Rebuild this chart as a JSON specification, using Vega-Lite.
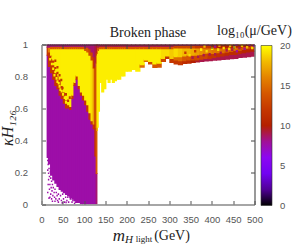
{"$schema":"https://vega.github.io/schema/vega-lite/v6.json","width":213,"height":160,"autosize":"none","padding":{"left":41.5,"top":44.5,"right":38.5,"bottom":45.5},"background":"white",
"title":{"text":"Broken phase","font":"Liberation Serif","fontSize":14,"fontWeight":"normal","color":"#222","offset":1,"dy":17,"anchor":"middle"},
"config":{"view":{"stroke":null}},
"data":{"values":[
{"x":12,"x2":15,"y":0.29,"y2":0.93,"v":7.6},{"x":12,"x2":15,"y":0.93,"y2":0.98,"v":12},{"x":12,"x2":15,"y":0.98,"y2":1,"v":8.5},
{"x":15,"x2":20,"y":0.25,"y2":0.86,"v":7.6},{"x":15,"x2":20,"y":0.86,"y2":0.95,"v":12},{"x":15,"x2":20,"y":0.95,"y2":0.98,"v":16},{"x":15,"x2":20,"y":0.98,"y2":1,"v":8.5},
{"x":20,"x2":25,"y":0.18,"y2":0.82,"v":7.6},{"x":20,"x2":25,"y":0.82,"y2":0.93,"v":12},{"x":20,"x2":25,"y":0.93,"y2":0.97,"v":19.5},{"x":20,"x2":25,"y":0.97,"y2":0.985,"v":14},{"x":20,"x2":25,"y":0.985,"y2":1,"v":8.5},
{"x":25,"x2":30,"y":0.15,"y2":0.78,"v":7.6},{"x":25,"x2":30,"y":0.78,"y2":0.9,"v":12},{"x":25,"x2":30,"y":0.9,"y2":0.97,"v":19.5},{"x":25,"x2":30,"y":0.97,"y2":0.985,"v":14},{"x":25,"x2":30,"y":0.985,"y2":1,"v":8.5},
{"x":30,"x2":35,"y":0.13,"y2":0.74,"v":7.6},{"x":30,"x2":35,"y":0.74,"y2":0.86,"v":12},{"x":30,"x2":35,"y":0.86,"y2":0.97,"v":19.5},{"x":30,"x2":35,"y":0.97,"y2":0.985,"v":14},{"x":30,"x2":35,"y":0.985,"y2":1,"v":8.5},
{"x":35,"x2":40,"y":0.11,"y2":0.72,"v":7.6},{"x":35,"x2":40,"y":0.72,"y2":0.83,"v":12},{"x":35,"x2":40,"y":0.83,"y2":0.97,"v":19.5},{"x":35,"x2":40,"y":0.97,"y2":0.985,"v":14},{"x":35,"x2":40,"y":0.985,"y2":1,"v":8.5},
{"x":40,"x2":45,"y":0.09,"y2":0.68,"v":7.6},{"x":40,"x2":45,"y":0.68,"y2":0.78,"v":12},{"x":40,"x2":45,"y":0.78,"y2":0.97,"v":19.5},{"x":40,"x2":45,"y":0.97,"y2":0.985,"v":14},{"x":40,"x2":45,"y":0.985,"y2":1,"v":8.5},
{"x":45,"x2":50,"y":0.08,"y2":0.66,"v":7.6},{"x":45,"x2":50,"y":0.66,"y2":0.74,"v":12},{"x":45,"x2":50,"y":0.74,"y2":0.97,"v":19.5},{"x":45,"x2":50,"y":0.97,"y2":0.985,"v":14},{"x":45,"x2":50,"y":0.985,"y2":1,"v":8.5},
{"x":50,"x2":55,"y":0.07,"y2":0.63,"v":7.6},{"x":50,"x2":55,"y":0.63,"y2":0.7,"v":12},{"x":50,"x2":55,"y":0.7,"y2":0.97,"v":19.5},{"x":50,"x2":55,"y":0.97,"y2":0.985,"v":14},{"x":50,"x2":55,"y":0.985,"y2":1,"v":8.5},
{"x":55,"x2":60,"y":0.06,"y2":0.6,"v":7.6},{"x":55,"x2":60,"y":0.6,"y2":0.65,"v":12},{"x":55,"x2":60,"y":0.65,"y2":0.97,"v":19.5},{"x":55,"x2":60,"y":0.97,"y2":0.985,"v":14},{"x":55,"x2":60,"y":0.985,"y2":1,"v":8.5},
{"x":60,"x2":65,"y":0.05,"y2":0.6,"v":7.6},{"x":60,"x2":65,"y":0.6,"y2":0.62,"v":12},{"x":60,"x2":65,"y":0.62,"y2":0.97,"v":19.5},{"x":60,"x2":65,"y":0.97,"y2":0.985,"v":14},{"x":60,"x2":65,"y":0.985,"y2":1,"v":8.5},
{"x":65,"x2":70,"y":0.04,"y2":0.59,"v":7.6},{"x":65,"x2":70,"y":0.59,"y2":0.61,"v":12},{"x":65,"x2":70,"y":0.61,"y2":0.97,"v":19.5},{"x":65,"x2":70,"y":0.97,"y2":0.985,"v":14},{"x":65,"x2":70,"y":0.985,"y2":1,"v":8.5},
{"x":70,"x2":75,"y":0.03,"y2":0.66,"v":7.6},{"x":70,"x2":75,"y":0.66,"y2":0.68,"v":12},{"x":70,"x2":75,"y":0.68,"y2":0.97,"v":19.5},{"x":70,"x2":75,"y":0.97,"y2":0.985,"v":14},{"x":70,"x2":75,"y":0.985,"y2":1,"v":8.5},
{"x":75,"x2":80,"y":0.02,"y2":0.74,"v":7.6},{"x":75,"x2":80,"y":0.74,"y2":0.76,"v":12},{"x":75,"x2":80,"y":0.76,"y2":0.97,"v":19.5},{"x":75,"x2":80,"y":0.97,"y2":0.985,"v":14},{"x":75,"x2":80,"y":0.985,"y2":1,"v":8.5},
{"x":80,"x2":85,"y":0.01,"y2":0.78,"v":7.6},{"x":80,"x2":85,"y":0.78,"y2":0.8,"v":12},{"x":80,"x2":85,"y":0.8,"y2":0.97,"v":19.5},{"x":80,"x2":85,"y":0.97,"y2":0.985,"v":14},{"x":80,"x2":85,"y":0.985,"y2":1,"v":8.5},
{"x":85,"x2":90,"y":0.01,"y2":0.72,"v":7.6},{"x":85,"x2":90,"y":0.72,"y2":0.74,"v":12},{"x":85,"x2":90,"y":0.74,"y2":0.97,"v":19.5},{"x":85,"x2":90,"y":0.97,"y2":0.985,"v":14},{"x":85,"x2":90,"y":0.985,"y2":1,"v":8.5},
{"x":90,"x2":95,"y":0,"y2":0.68,"v":7.6},{"x":90,"x2":95,"y":0.68,"y2":0.7,"v":12},{"x":90,"x2":95,"y":0.7,"y2":0.97,"v":19.5},{"x":90,"x2":95,"y":0.97,"y2":0.985,"v":14},{"x":90,"x2":95,"y":0.985,"y2":1,"v":8.5},
{"x":95,"x2":100,"y":0,"y2":0.65,"v":7.6},{"x":95,"x2":100,"y":0.65,"y2":0.68,"v":12},{"x":95,"x2":100,"y":0.68,"y2":0.97,"v":19.5},{"x":95,"x2":100,"y":0.97,"y2":0.985,"v":14},{"x":95,"x2":100,"y":0.985,"y2":1,"v":8.5},
{"x":100,"x2":105,"y":0,"y2":0.62,"v":7.6},{"x":100,"x2":105,"y":0.62,"y2":0.65,"v":12},{"x":100,"x2":105,"y":0.65,"y2":0.96,"v":19.5},{"x":100,"x2":105,"y":0.96,"y2":0.98,"v":14},{"x":100,"x2":105,"y":0.98,"y2":1,"v":8.5},
{"x":105,"x2":110,"y":0,"y2":0.58,"v":7.6},{"x":105,"x2":110,"y":0.58,"y2":0.62,"v":12},{"x":105,"x2":110,"y":0.62,"y2":0.95,"v":19.5},{"x":105,"x2":110,"y":0.95,"y2":0.98,"v":14},{"x":105,"x2":110,"y":0.98,"y2":1,"v":8.5},
{"x":110,"x2":115,"y":0,"y2":0.53,"v":7.6},{"x":110,"x2":115,"y":0.53,"y2":0.57,"v":12},{"x":110,"x2":115,"y":0.57,"y2":0.93,"v":19.5},{"x":110,"x2":115,"y":0.93,"y2":0.97,"v":13},{"x":110,"x2":115,"y":0.97,"y2":1,"v":8.5},
{"x":115,"x2":120,"y":0,"y2":0.5,"v":7.6},{"x":115,"x2":120,"y":0.5,"y2":0.52,"v":12},{"x":115,"x2":120,"y":0.52,"y2":0.9,"v":19},{"x":115,"x2":120,"y":0.9,"y2":0.95,"v":13},{"x":115,"x2":120,"y":0.95,"y2":1,"v":8.5},
{"x":120,"x2":124,"y":0,"y2":0.47,"v":7.6},{"x":120,"x2":124,"y":0.47,"y2":0.5,"v":12},{"x":120,"x2":124,"y":0.5,"y2":0.85,"v":17},{"x":120,"x2":124,"y":0.85,"y2":0.92,"v":12},{"x":120,"x2":124,"y":0.92,"y2":1,"v":8.5},
{"x":124,"x2":127,"y":0,"y2":0.3,"v":7.6},{"x":124,"x2":127,"y":0.3,"y2":0.86,"v":11.5},{"x":124,"x2":127,"y":0.86,"y2":1,"v":9},
{"x":127,"x2":129,"y":0,"y2":0.19,"v":8.5},{"x":127,"x2":129,"y":0.19,"y2":0.48,"v":14},{"x":127,"x2":129,"y":0.48,"y2":0.88,"v":16},{"x":127,"x2":129,"y":0.88,"y2":0.95,"v":12},{"x":127,"x2":129,"y":0.95,"y2":1,"v":9},
{"x":129,"x2":130,"y":0.46,"y2":0.93,"v":18},{"x":129,"x2":130,"y":0.93,"y2":1,"v":10},
{"x":130,"x2":132,"y":0.48,"y2":0.94,"v":19.5},{"x":130,"x2":132,"y":0.94,"y2":0.98,"v":14},{"x":130,"x2":132,"y":0.98,"y2":1,"v":9},
{"x":132,"x2":135,"y":0.58,"y2":0.96,"v":19.5},{"x":132,"x2":135,"y":0.96,"y2":0.98,"v":14},{"x":132,"x2":135,"y":0.98,"y2":1,"v":9},
{"x":135,"x2":140,"y":0.76,"y2":0.97,"v":19.5},{"x":135,"x2":140,"y":0.97,"y2":0.985,"v":14},{"x":135,"x2":140,"y":0.985,"y2":1,"v":9},
{"x":140,"x2":145,"y":0.7,"y2":0.97,"v":19.5},{"x":140,"x2":145,"y":0.97,"y2":0.985,"v":14},{"x":140,"x2":145,"y":0.985,"y2":1,"v":9},
{"x":145,"x2":150,"y":0.72,"y2":0.97,"v":19.5},{"x":145,"x2":150,"y":0.97,"y2":0.985,"v":14},{"x":145,"x2":150,"y":0.985,"y2":1,"v":9},
{"x":150,"x2":155,"y":0.78,"y2":0.97,"v":19.5},{"x":150,"x2":155,"y":0.97,"y2":0.985,"v":14},{"x":150,"x2":155,"y":0.985,"y2":1,"v":9},
{"x":155,"x2":160,"y":0.76,"y2":0.97,"v":19.5},{"x":155,"x2":160,"y":0.97,"y2":0.985,"v":14},{"x":155,"x2":160,"y":0.985,"y2":1,"v":9},
{"x":160,"x2":165,"y":0.78,"y2":0.97,"v":19.5},{"x":160,"x2":165,"y":0.97,"y2":0.985,"v":14},{"x":160,"x2":165,"y":0.985,"y2":1,"v":9},
{"x":165,"x2":170,"y":0.76,"y2":0.97,"v":19.5},{"x":165,"x2":170,"y":0.97,"y2":0.985,"v":14},{"x":165,"x2":170,"y":0.985,"y2":1,"v":9},
{"x":170,"x2":175,"y":0.77,"y2":0.97,"v":19.5},{"x":170,"x2":175,"y":0.97,"y2":0.985,"v":14},{"x":170,"x2":175,"y":0.985,"y2":1,"v":9},
{"x":175,"x2":180,"y":0.78,"y2":0.97,"v":19.5},{"x":175,"x2":180,"y":0.97,"y2":0.985,"v":14},{"x":175,"x2":180,"y":0.985,"y2":1,"v":9},
{"x":180,"x2":185,"y":0.78,"y2":0.97,"v":19.5},{"x":180,"x2":185,"y":0.97,"y2":0.985,"v":14},{"x":180,"x2":185,"y":0.985,"y2":1,"v":9},
{"x":185,"x2":190,"y":0.8,"y2":0.97,"v":19.5},{"x":185,"x2":190,"y":0.97,"y2":0.985,"v":14},{"x":185,"x2":190,"y":0.985,"y2":1,"v":9},
{"x":190,"x2":195,"y":0.8,"y2":0.97,"v":19.5},{"x":190,"x2":195,"y":0.97,"y2":0.985,"v":14},{"x":190,"x2":195,"y":0.985,"y2":1,"v":9},
{"x":195,"x2":200,"y":0.83,"y2":0.97,"v":19.5},{"x":195,"x2":200,"y":0.97,"y2":0.985,"v":14},{"x":195,"x2":200,"y":0.985,"y2":1,"v":9},
{"x":200,"x2":210,"y":0.83,"y2":0.97,"v":19.5},{"x":200,"x2":210,"y":0.97,"y2":0.985,"v":14},{"x":200,"x2":210,"y":0.985,"y2":1,"v":9},
{"x":210,"x2":220,"y":0.84,"y2":0.97,"v":19.5},{"x":210,"x2":220,"y":0.97,"y2":0.985,"v":14},{"x":210,"x2":220,"y":0.985,"y2":1,"v":9},
{"x":220,"x2":230,"y":0.83,"y2":0.97,"v":19.5},{"x":220,"x2":230,"y":0.97,"y2":0.985,"v":14},{"x":220,"x2":230,"y":0.985,"y2":1,"v":9},
{"x":230,"x2":240,"y":0.855,"y2":0.87,"v":15},{"x":230,"x2":240,"y":0.87,"y2":0.97,"v":19.5},{"x":230,"x2":240,"y":0.97,"y2":0.985,"v":14},{"x":230,"x2":240,"y":0.985,"y2":1,"v":9},
{"x":240,"x2":250,"y":0.89,"y2":0.9,"v":15},{"x":240,"x2":250,"y":0.9,"y2":0.97,"v":19.5},{"x":240,"x2":250,"y":0.97,"y2":0.985,"v":14},{"x":240,"x2":250,"y":0.985,"y2":1,"v":9},
{"x":250,"x2":260,"y":0.875,"y2":0.89,"v":13},{"x":250,"x2":260,"y":0.89,"y2":0.97,"v":19.5},{"x":250,"x2":260,"y":0.97,"y2":0.985,"v":14},{"x":250,"x2":260,"y":0.985,"y2":1,"v":9},
{"x":260,"x2":270,"y":0.853,"y2":0.875,"v":14},{"x":260,"x2":270,"y":0.875,"y2":0.97,"v":19.5},{"x":260,"x2":270,"y":0.97,"y2":0.985,"v":14},{"x":260,"x2":270,"y":0.985,"y2":1,"v":9},
{"x":270,"x2":280,"y":0.855,"y2":0.88,"v":14},{"x":270,"x2":280,"y":0.88,"y2":0.97,"v":19.5},{"x":270,"x2":280,"y":0.97,"y2":0.985,"v":14},{"x":270,"x2":280,"y":0.985,"y2":1,"v":9},
{"x":280,"x2":290,"y":0.89,"y2":0.91,"v":13},{"x":280,"x2":290,"y":0.91,"y2":0.97,"v":19},{"x":280,"x2":290,"y":0.97,"y2":0.985,"v":14},{"x":280,"x2":290,"y":0.985,"y2":1,"v":9},
{"x":290,"x2":300,"y":0.91,"y2":0.925,"v":12},{"x":290,"x2":300,"y":0.925,"y2":0.97,"v":19},{"x":290,"x2":300,"y":0.97,"y2":0.985,"v":14},{"x":290,"x2":300,"y":0.985,"y2":1,"v":9},
{"x":300,"x2":310,"y":0.885,"y2":0.91,"v":12},{"x":300,"x2":310,"y":0.91,"y2":0.97,"v":18.5},{"x":300,"x2":310,"y":0.97,"y2":0.985,"v":14},{"x":300,"x2":310,"y":0.985,"y2":1,"v":9},
{"x":310,"x2":320,"y":0.875,"y2":0.9,"v":12},{"x":310,"x2":320,"y":0.9,"y2":0.92,"v":15},{"x":310,"x2":320,"y":0.92,"y2":0.975,"v":19},{"x":310,"x2":320,"y":0.975,"y2":0.99,"v":13},{"x":310,"x2":320,"y":0.99,"y2":1,"v":9},
{"x":320,"x2":330,"y":0.87,"y2":0.895,"v":12},{"x":320,"x2":330,"y":0.895,"y2":0.92,"v":15},{"x":320,"x2":330,"y":0.92,"y2":0.975,"v":18.5},{"x":320,"x2":330,"y":0.975,"y2":0.99,"v":13},{"x":320,"x2":330,"y":0.99,"y2":1,"v":9},
{"x":330,"x2":340,"y":0.878,"y2":0.895,"v":11},{"x":330,"x2":340,"y":0.895,"y2":0.925,"v":14},{"x":330,"x2":340,"y":0.925,"y2":0.975,"v":18},{"x":330,"x2":340,"y":0.975,"y2":0.99,"v":13},{"x":330,"x2":340,"y":0.99,"y2":1,"v":9},
{"x":340,"x2":350,"y":0.88,"y2":0.9,"v":11},{"x":340,"x2":350,"y":0.9,"y2":0.93,"v":14},{"x":340,"x2":350,"y":0.93,"y2":0.975,"v":18},{"x":340,"x2":350,"y":0.975,"y2":0.99,"v":13},{"x":340,"x2":350,"y":0.99,"y2":1,"v":9},
{"x":350,"x2":360,"y":0.885,"y2":0.9,"v":10},{"x":350,"x2":360,"y":0.9,"y2":0.93,"v":13},{"x":350,"x2":360,"y":0.93,"y2":0.975,"v":17.5},{"x":350,"x2":360,"y":0.975,"y2":0.99,"v":13},{"x":350,"x2":360,"y":0.99,"y2":1,"v":9},
{"x":360,"x2":370,"y":0.888,"y2":0.9,"v":9.5},{"x":360,"x2":370,"y":0.9,"y2":0.93,"v":13},{"x":360,"x2":370,"y":0.93,"y2":0.975,"v":17},{"x":360,"x2":370,"y":0.975,"y2":0.99,"v":12},{"x":360,"x2":370,"y":0.99,"y2":1,"v":9},
{"x":370,"x2":380,"y":0.89,"y2":0.905,"v":9},{"x":370,"x2":380,"y":0.905,"y2":0.935,"v":13},{"x":370,"x2":380,"y":0.935,"y2":0.975,"v":16.5},{"x":370,"x2":380,"y":0.975,"y2":0.99,"v":12},{"x":370,"x2":380,"y":0.99,"y2":1,"v":9},
{"x":380,"x2":390,"y":0.893,"y2":0.91,"v":9},{"x":380,"x2":390,"y":0.91,"y2":0.94,"v":13},{"x":380,"x2":390,"y":0.94,"y2":0.975,"v":16},{"x":380,"x2":390,"y":0.975,"y2":0.99,"v":12},{"x":380,"x2":390,"y":0.99,"y2":1,"v":9},
{"x":390,"x2":400,"y":0.895,"y2":0.91,"v":9},{"x":390,"x2":400,"y":0.91,"y2":0.94,"v":12},{"x":390,"x2":400,"y":0.94,"y2":0.975,"v":16},{"x":390,"x2":400,"y":0.975,"y2":0.99,"v":12},{"x":390,"x2":400,"y":0.99,"y2":1,"v":9},
{"x":400,"x2":410,"y":0.898,"y2":0.915,"v":9},{"x":400,"x2":410,"y":0.915,"y2":0.94,"v":12},{"x":400,"x2":410,"y":0.94,"y2":0.975,"v":15.5},{"x":400,"x2":410,"y":0.975,"y2":1,"v":10},
{"x":410,"x2":420,"y":0.9,"y2":0.92,"v":9},{"x":410,"x2":420,"y":0.92,"y2":0.945,"v":11.5},{"x":410,"x2":420,"y":0.945,"y2":0.975,"v":15.5},{"x":410,"x2":420,"y":0.975,"y2":1,"v":10},
{"x":420,"x2":430,"y":0.903,"y2":0.925,"v":9},{"x":420,"x2":430,"y":0.925,"y2":0.945,"v":11.5},{"x":420,"x2":430,"y":0.945,"y2":0.975,"v":15},{"x":420,"x2":430,"y":0.975,"y2":1,"v":10},
{"x":430,"x2":440,"y":0.905,"y2":0.93,"v":9},{"x":430,"x2":440,"y":0.93,"y2":0.95,"v":11},{"x":430,"x2":440,"y":0.95,"y2":0.975,"v":15},{"x":430,"x2":440,"y":0.975,"y2":1,"v":10},
{"x":440,"x2":450,"y":0.908,"y2":0.935,"v":9},{"x":440,"x2":450,"y":0.935,"y2":0.955,"v":11},{"x":440,"x2":450,"y":0.955,"y2":0.975,"v":15},{"x":440,"x2":450,"y":0.975,"y2":1,"v":10},
{"x":450,"x2":460,"y":0.91,"y2":0.935,"v":9},{"x":450,"x2":460,"y":0.935,"y2":0.96,"v":11},{"x":450,"x2":460,"y":0.96,"y2":0.98,"v":15},{"x":450,"x2":460,"y":0.98,"y2":1,"v":10},
{"x":460,"x2":470,"y":0.915,"y2":0.94,"v":9},{"x":460,"x2":470,"y":0.94,"y2":0.96,"v":11},{"x":460,"x2":470,"y":0.96,"y2":0.98,"v":14},{"x":460,"x2":470,"y":0.98,"y2":1,"v":10},
{"x":470,"x2":480,"y":0.917,"y2":0.945,"v":9},{"x":470,"x2":480,"y":0.945,"y2":0.965,"v":10.5},{"x":470,"x2":480,"y":0.965,"y2":0.985,"v":14},{"x":470,"x2":480,"y":0.985,"y2":1,"v":10},
{"x":480,"x2":490,"y":0.92,"y2":0.95,"v":9},{"x":480,"x2":490,"y":0.95,"y2":0.97,"v":10.5},{"x":480,"x2":490,"y":0.97,"y2":0.985,"v":13},{"x":480,"x2":490,"y":0.985,"y2":1,"v":10},
{"x":490,"x2":500,"y":0.923,"y2":0.955,"v":9},{"x":490,"x2":500,"y":0.955,"y2":0.975,"v":10.5},{"x":490,"x2":500,"y":0.975,"y2":0.99,"v":13},{"x":490,"x2":500,"y":0.99,"y2":1,"v":10},
{"x":13,"x2":14,"y":0.27,"y2":0.274,"v":7.6},{"x":14,"x2":15,"y":0.245,"y2":0.249,"v":7.6},{"x":16,"x2":17,"y":0.22,"y2":0.224,"v":7.6},{"x":13,"x2":14,"y":0.21,"y2":0.214,"v":7.6},{"x":15,"x2":16,"y":0.19,"y2":0.194,"v":7.6},{"x":17,"x2":18,"y":0.17,"y2":0.174,"v":7.6},{"x":19,"x2":20,"y":0.2,"y2":0.204,"v":7.6},{"x":15,"x2":16,"y":0.15,"y2":0.154,"v":7.6},{"x":20,"x2":21,"y":0.16,"y2":0.164,"v":7.6},{"x":22,"x2":23,"y":0.14,"y2":0.144,"v":7.6},{"x":18,"x2":19,"y":0.12,"y2":0.124,"v":7.6},{"x":24,"x2":25,"y":0.12,"y2":0.124,"v":7.6},{"x":21,"x2":22,"y":0.1,"y2":0.104,"v":7.6},{"x":17,"x2":18,"y":0.09,"y2":0.094,"v":7.6},{"x":26,"x2":27,"y":0.1,"y2":0.104,"v":7.6},{"x":23,"x2":24,"y":0.08,"y2":0.084,"v":7.6},{"x":28,"x2":29,"y":0.07,"y2":0.074,"v":7.6},{"x":20,"x2":21,"y":0.06,"y2":0.064,"v":7.6},{"x":25,"x2":26,"y":0.05,"y2":0.054,"v":7.6},{"x":30,"x2":31,"y":0.09,"y2":0.094,"v":7.6},{"x":33,"x2":34,"y":0.07,"y2":0.074,"v":7.6},{"x":29,"x2":30,"y":0.04,"y2":0.044,"v":7.6},{"x":35,"x2":36,"y":0.05,"y2":0.054,"v":7.6},{"x":38,"x2":39,"y":0.06,"y2":0.064,"v":7.6},{"x":32,"x2":33,"y":0.03,"y2":0.034,"v":7.6},{"x":40,"x2":41,"y":0.03,"y2":0.034,"v":7.6},{"x":36,"x2":37,"y":0.02,"y2":0.024,"v":7.6},{"x":43,"x2":44,"y":0.05,"y2":0.054,"v":7.6},{"x":45,"x2":46,"y":0.02,"y2":0.024,"v":7.6},{"x":48,"x2":49,"y":0.06,"y2":0.064,"v":7.6},{"x":50,"x2":51,"y":0.03,"y2":0.034,"v":7.6},{"x":52,"x2":53,"y":0.01,"y2":0.014,"v":7.6},{"x":55,"x2":56,"y":0.04,"y2":0.044,"v":7.6},{"x":58,"x2":59,"y":0.02,"y2":0.024,"v":7.6},{"x":60,"x2":61,"y":0.04,"y2":0.044,"v":7.6},{"x":62,"x2":63,"y":0.01,"y2":0.014,"v":7.6},{"x":66,"x2":67,"y":0.03,"y2":0.034,"v":7.6},{"x":70,"x2":71,"y":0.01,"y2":0.014,"v":7.6},{"x":72,"x2":73,"y":0.02,"y2":0.024,"v":7.6},{"x":76,"x2":77,"y":0,"y2":0.004,"v":7.6},{"x":78,"x2":79,"y":0.01,"y2":0.014,"v":7.6},{"x":47,"x2":48,"y":0.005,"y2":0.009,"v":7.6},{"x":30,"x2":31,"y":0.015,"y2":0.019,"v":7.6},{"x":22,"x2":23,"y":0.03,"y2":0.034,"v":7.6},{"x":18,"x2":19,"y":0.04,"y2":0.044,"v":7.6},{"x":14,"x2":15,"y":0.12,"y2":0.124,"v":7.6},{"x":13,"x2":14,"y":0.07,"y2":0.074,"v":7.6},{"x":16,"x2":17,"y":0.035,"y2":0.039,"v":7.6},{"x":24,"x2":25,"y":0.015,"y2":0.019,"v":7.6},{"x":38,"x2":39,"y":0.01,"y2":0.014,"v":7.6},{"x":56,"x2":57,"y":0.008,"y2":0.012,"v":7.6},
{"x":18,"x2":20.5,"y":0.9,"y2":0.91,"v":19.5},{"x":22,"x2":24.5,"y":0.87,"y2":0.88,"v":19.5},{"x":25,"x2":27.5,"y":0.84,"y2":0.85,"v":19.5},{"x":28,"x2":30.5,"y":0.8,"y2":0.81,"v":19.5},{"x":30,"x2":32.5,"y":0.82,"y2":0.83,"v":19.5},{"x":33,"x2":35.5,"y":0.78,"y2":0.79,"v":19.5},{"x":35,"x2":37.5,"y":0.76,"y2":0.77,"v":19.5},{"x":38,"x2":40.5,"y":0.75,"y2":0.76,"v":19.5},{"x":40,"x2":42.5,"y":0.73,"y2":0.74,"v":19.5},{"x":42,"x2":44.5,"y":0.71,"y2":0.72,"v":19.5},{"x":45,"x2":47.5,"y":0.7,"y2":0.71,"v":19.5},{"x":48,"x2":50.5,"y":0.68,"y2":0.69,"v":19.5},{"x":52,"x2":54.5,"y":0.66,"y2":0.67,"v":19.5},{"x":27,"x2":29.5,"y":0.87,"y2":0.88,"v":19.5},{"x":32,"x2":34.5,"y":0.83,"y2":0.84,"v":19.5},{"x":37,"x2":39.5,"y":0.8,"y2":0.81,"v":19.5},{"x":55,"x2":57.5,"y":0.63,"y2":0.64,"v":19.5},{"x":23,"x2":25.5,"y":0.91,"y2":0.92,"v":19.5},
{"x":30,"x2":32.5,"y":0.89,"y2":0.9,"v":12},{"x":35,"x2":37.5,"y":0.85,"y2":0.86,"v":12},{"x":40,"x2":42.5,"y":0.8,"y2":0.81,"v":12},{"x":44,"x2":46.5,"y":0.77,"y2":0.78,"v":12},{"x":47,"x2":49.5,"y":0.72,"y2":0.73,"v":12},{"x":55,"x2":57.5,"y":0.68,"y2":0.69,"v":12},{"x":60,"x2":62.5,"y":0.64,"y2":0.65,"v":12},{"x":64,"x2":66.5,"y":0.66,"y2":0.67,"v":12},
{"x":335,"x2":338,"y":0.94,"y2":0.95,"v":12},{"x":345,"x2":348,"y":0.925,"y2":0.935,"v":19},{"x":352,"x2":355,"y":0.91,"y2":0.92,"v":9},{"x":358,"x2":361,"y":0.95,"y2":0.96,"v":12},{"x":365,"x2":368,"y":0.915,"y2":0.925,"v":9},{"x":372,"x2":375,"y":0.96,"y2":0.97,"v":19.5},{"x":378,"x2":381,"y":0.925,"y2":0.935,"v":9},{"x":385,"x2":388,"y":0.95,"y2":0.96,"v":19},{"x":392,"x2":395,"y":0.93,"y2":0.94,"v":9},{"x":398,"x2":401,"y":0.965,"y2":0.975,"v":19.5},{"x":405,"x2":408,"y":0.93,"y2":0.94,"v":9},{"x":412,"x2":415,"y":0.96,"y2":0.97,"v":19},{"x":418,"x2":421,"y":0.94,"y2":0.95,"v":9},{"x":425,"x2":428,"y":0.97,"y2":0.98,"v":19},{"x":432,"x2":435,"y":0.955,"y2":0.965,"v":9},{"x":438,"x2":441,"y":0.965,"y2":0.975,"v":19},{"x":445,"x2":448,"y":0.96,"y2":0.97,"v":9},{"x":450,"x2":453,"y":0.975,"y2":0.985,"v":19},{"x":456,"x2":459,"y":0.95,"y2":0.96,"v":8},{"x":462,"x2":465,"y":0.97,"y2":0.98,"v":9},{"x":468,"x2":471,"y":0.985,"y2":0.995,"v":18},{"x":474,"x2":477,"y":0.965,"y2":0.975,"v":8},{"x":480,"x2":483,"y":0.975,"y2":0.985,"v":18},{"x":486,"x2":489,"y":0.99,"y2":1,"v":8},{"x":492,"x2":495,"y":0.97,"y2":0.98,"v":19},{"x":496,"x2":499,"y":0.985,"y2":0.995,"v":8},{"x":440,"x2":443,"y":0.985,"y2":0.995,"v":18},{"x":415,"x2":418,"y":0.985,"y2":0.995,"v":17},{"x":380,"x2":383,"y":0.98,"y2":0.99,"v":18},{"x":455,"x2":458,"y":0.99,"y2":1,"v":8},{"x":405,"x2":408,"y":0.98,"y2":0.99,"v":8}
]},
"encoding":{
"x":{"field":"x","type":"quantitative","scale":{"domain":[0,500],"nice":false},"axis":{"values":[0,50,100,150,200,250,300,350,400,450,500],"title":"m","titleX":77,"titleY":23,"titleAlign":"center","labelFlush":false,"labelOverlap":false,"grid":false,"tickSize":-4,"tickColor":"#555","labelColor":"#555","labelFont":"Liberation Sans","labelFontSize":9.5,"labelPadding":14,"domainColor":"#888","domainWidth":1.5,"titleFont":"Liberation Serif","titleFontSize":17,"titleFontStyle":"italic","titleFontWeight":"normal","titleColor":"#222","zindex":1}},
"x2":{"field":"x2"},
"y":{"field":"y","type":"quantitative","scale":{"domain":[0,1],"nice":false},"axis":{"values":[0,0.2,0.4,0.6,0.8,1],"format":"~g","title":"κH₁₂₆","titleY":83,"labelFlush":false,"labelOverlap":false,"grid":false,"tickSize":-4,"tickColor":"#555","labelColor":"#555","labelFont":"Liberation Sans","labelFontSize":9.5,"labelPadding":18,"domainColor":"#888","domainWidth":1.5,"titleFont":"Liberation Serif","titleFontSize":16,"titleFontStyle":"italic","titleFontWeight":"normal","titleColor":"#222","titlePadding":-1,"zindex":1}},
"y2":{"field":"y2"},
"fill":{"field":"v","type":"quantitative","scale":{"interpolate":"rgb","domain":[0,2,4,6,8,10,12,14,16,18,20],"range":["#000000","#500096","#7202f2","#8c07f2","#a11096","#b42000","#c53700","#d55700","#e48300","#f2ba00","#ffff00"]},
"legend":{"type":"gradient","orient":"none","legendX":175.5,"legendY":-21,"direction":"vertical","tickCount":5,"title":"log₁₀(μ/GeV)","titleFont":"Liberation Serif","titleFontSize":14,"titleFontWeight":"normal","titleColor":"#222","titleLimit":100,"titlePadding":8,"gradientLength":160,"gradientThickness":11,"gradientStrokeColor":"#333","gradientStrokeWidth":0.6,"labelColor":"#555","labelFont":"Liberation Sans","labelFontSize":9.5,"labelOffset":8,"encode":{"title":{"update":{"dx":{"value":-44}}},"labels":{"update":{"baseline":{"value":"middle"}}}}}}
},
"layer":[
{"mark":{"type":"rect","binSpacing":0,"x2Offset":1,"y2Offset":-1,"clip":true}},
{"mark":{"type":"rule","opacity":0},"encoding":{"x":{"field":"x","type":"quantitative","axis":{"orient":"top","values":[50,100,150,200,250,300,350,400,450],"labels":false,"title":null,"grid":false,"tickSize":-4,"tickColor":"#444","domainColor":"#333","zindex":1}},"x2":null,"y":{"field":"y","type":"quantitative","axis":{"orient":"right","values":[0.2,0.4,0.6,0.8],"labels":false,"title":null,"grid":false,"tickSize":-4,"tickColor":"#444","domainColor":"#555","domainWidth":1.2,"zindex":1}},"y2":null,"fill":null}},
{"mark":{"type":"rule","opacity":0},"encoding":{"x":{"field":"x","type":"quantitative","axis":{"orient":"bottom","labels":false,"ticks":false,"domain":false,"grid":false,"title":"H","titleX":87,"titleY":29,"titleAlign":"center","titleFont":"Liberation Serif","titleFontSize":11,"titleFontStyle":"italic","titleFontWeight":"normal","titleColor":"#222"}},"x2":null,"y":{"field":"y","type":"quantitative","axis":null},"y2":null,"fill":null}},
{"mark":{"type":"rule","opacity":0},"encoding":{"x":{"field":"x","type":"quantitative","axis":{"orient":"bottom","labels":false,"ticks":false,"domain":false,"grid":false,"title":"light","titleX":102,"titleY":30,"titleAlign":"center","titleFont":"Liberation Serif","titleFontSize":9,"titleFontWeight":"normal","titleColor":"#222"}},"x2":null,"y":{"field":"y","type":"quantitative","axis":null},"y2":null,"fill":null}},
{"mark":{"type":"rule","opacity":0},"encoding":{"x":{"field":"x","type":"quantitative","axis":{"orient":"bottom","labels":false,"ticks":false,"domain":false,"grid":false,"title":"(GeV)","titleX":130,"titleY":24,"titleAlign":"center","titleFont":"Liberation Serif","titleFontSize":14,"titleFontWeight":"normal","titleColor":"#222"}},"x2":null,"y":{"field":"y","type":"quantitative","axis":null},"y2":null,"fill":null}}
],
"resolve":{"axis":{"x":"independent","y":"independent"}}
}
